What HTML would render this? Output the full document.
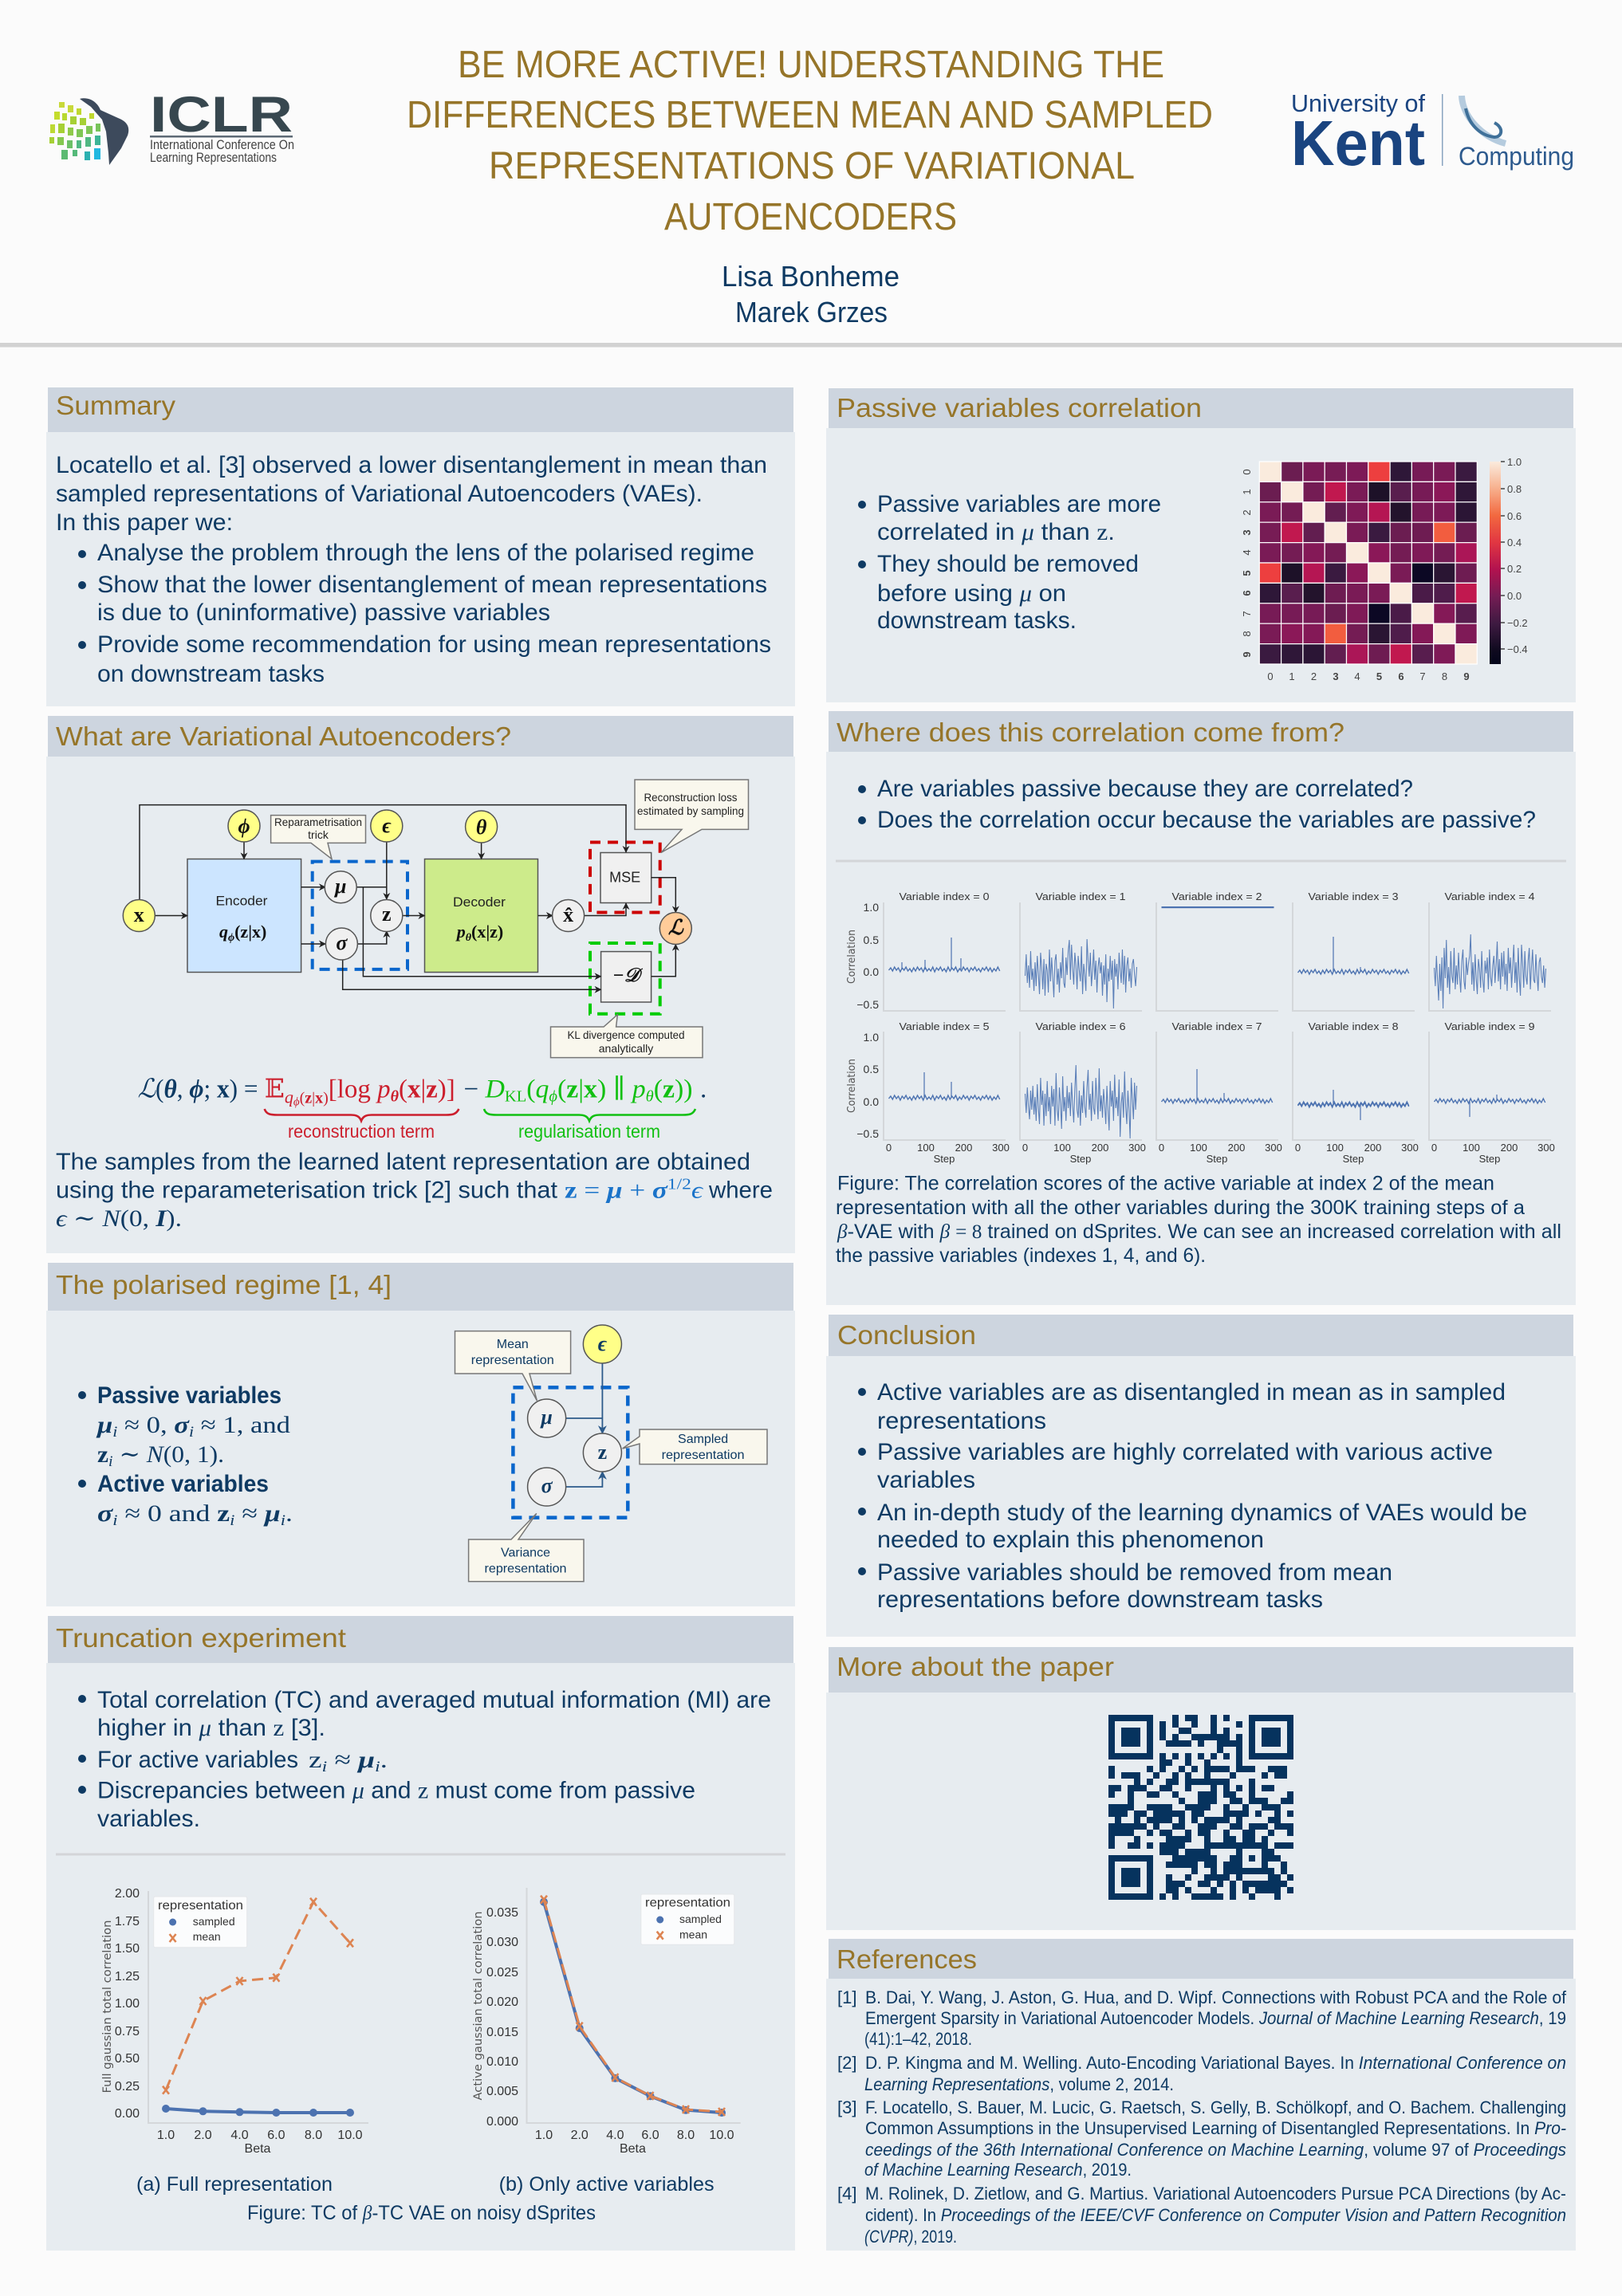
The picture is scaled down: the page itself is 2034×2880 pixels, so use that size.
<!DOCTYPE html>
<html><head><meta charset="utf-8"><title>Be More Active! Poster</title>
<style>
html,body{margin:0;padding:0;background:#fbfbfb}
svg{display:block}
text{font-family:"Liberation Sans",sans-serif}
.h{font-size:33px;fill:#967529}
.t{font-size:30px;fill:#0e3a63}
.f{font-size:25px;fill:#0e3a63}
.r{font-size:22px;fill:#0e3a63}
.m{font-family:"Liberation Serif","DejaVu Serif",serif}
.i{font-style:italic}
.bd{font-weight:bold}
.n{font-size:17px;fill:#222}
.c{font-size:14px;fill:#222;text-anchor:middle}
.c2{font-size:16px;fill:#0e3a63;text-anchor:middle}
.k{font-size:14px;fill:#333}
.w{font-family:"DejaVu Sans",sans-serif;font-size:14px;fill:#555;text-anchor:middle}
.ml{font-family:"Liberation Serif",serif;font-weight:bold;font-style:italic;font-size:26px;fill:#111;text-anchor:middle}
.hd{fill:#cdd5df}.bo{fill:#e7ecf0}
.ln{fill:none;stroke:#222;stroke-width:1.5}
.cb{fill:#f9f7ed;stroke:#777;stroke-width:1.5}
.nd{fill:#f0f0f0;stroke:#555;stroke-width:1.5}
.ye{fill:#ffff88;stroke:#555;stroke-width:1.5}
.hm rect{vector-effect:non-scaling-stroke}
</style></head>
<body>
<svg xmlns="http://www.w3.org/2000/svg" width="2034" height="2880" viewBox="0 0 2034 2880">
<defs>
<marker id="a" viewBox="0 0 10 10" refX="9" refY="5" markerWidth="9" markerHeight="9" markerUnits="userSpaceOnUse" orient="auto"><path d="M0 0L10 5L0 10L3 5z" fill="#222"/></marker>
<marker id="b" viewBox="0 0 10 10" refX="9" refY="5" markerWidth="11" markerHeight="11" markerUnits="userSpaceOnUse" orient="auto"><path d="M0 0L10 5L0 10L3 5z" fill="#2c5a8a"/></marker>
<linearGradient id="cbar" x1="0" y1="0" x2="0" y2="1">
<stop offset="0" stop-color="#faebdd"/><stop offset=".133" stop-color="#f7b08d"/><stop offset=".267" stop-color="#f2683f"/><stop offset=".4" stop-color="#e13642"/><stop offset=".533" stop-color="#b2124f"/><stop offset=".667" stop-color="#741c54"/><stop offset=".8" stop-color="#3e1a41"/><stop offset=".933" stop-color="#0f0a1f"/><stop offset="1" stop-color="#03051a"/>
</linearGradient>
<path id="j" fill="none" stroke="#4c72b0" stroke-width="1.4" d="M0 1 2.4-2 4.8 2 7.2-3 9.6 1 12-2 14.4 3 16.8-2 19.2 1 21.6-3 24 2 26.4-1 28.8 3 31.2-2 33.6 2 36-3 38.4 1 40.8-2 43.2 3 45.6-3 48 2 50.4-1 52.8 2 55.2-3 57.6 3 60-2 62.4 1 64.8-3 67.2 2 69.6-1 72 3 74.4-3 76.8 2 79.2-2 81.6 1 84-3 86.4 3 88.8-1 91.2 2 93.6-3 96 1 98.4-2 100.8 3 103.2-2 105.6 1 108-3 110.4 2 112.8-1 115.2 3 117.6-2 120 1 122.4-3 124.8 2 127.2-2 129.6 3 132-1 134.4 2 136.8-3 139.2 2"/>
<path id="xm" d="M-4-5L4 5M4-5L-4 5" stroke="#dd8452" stroke-width="2.6" fill="none"/>
</defs>
<rect width="2034" height="2880" fill="#fbfbfb"/>

<!-- header -->
<g style="font-size:48px;fill:#967529">
<text x="574" y="97" textLength="886" lengthAdjust="spacingAndGlyphs">BE MORE ACTIVE! UNDERSTANDING THE</text>
<text x="510" y="160" textLength="1011" lengthAdjust="spacingAndGlyphs">DIFFERENCES BETWEEN MEAN AND SAMPLED</text>
<text x="613" y="224" textLength="810" lengthAdjust="spacingAndGlyphs">REPRESENTATIONS OF VARIATIONAL</text>
<text x="833" y="288" textLength="367" lengthAdjust="spacingAndGlyphs">AUTOENCODERS</text>
</g>
<g style="font-size:36px;fill:#0e3a63">
<text x="905" y="359" textLength="223" lengthAdjust="spacingAndGlyphs">Lisa Bonheme</text>
<text x="922" y="404" textLength="191" lengthAdjust="spacingAndGlyphs">Marek Grzes</text>
</g>
<rect x="0" y="430" width="2034" height="5.5" fill="#d2d2d2"/>

<!-- ICLR logo -->
<path d="M100 124C112 121 122 128 126 138L148 148C158 152 164 158 160 170L152 186L137 207L136 192L133 165L128 150L114 134z" fill="#3d4a5c"/>
<g>
<rect x="74" y="128" width="7" height="7" fill="#c8d93a"/><rect x="85" y="132" width="7" height="9" fill="#c8d93a"/><rect x="96" y="136" width="6" height="8" fill="#c0d82f"/>
<rect x="68" y="140" width="7" height="10" fill="#c4dc2c"/><rect x="78" y="142" width="6" height="9" fill="#b8d930"/><rect x="88" y="146" width="8" height="10" fill="#a6d035"/><rect x="100" y="148" width="8" height="9" fill="#a6d035"/><rect x="112" y="142" width="6" height="7" fill="#c0d82f"/>
<rect x="63" y="156" width="6" height="11" fill="#bcd934"/><rect x="73" y="155" width="8" height="12" fill="#a6d035"/><rect x="85" y="160" width="7" height="10" fill="#8fca4a"/><rect x="96" y="162" width="8" height="10" fill="#7fc656"/><rect x="108" y="158" width="8" height="10" fill="#7fc656"/><rect x="120" y="155" width="6" height="10" fill="#78c45a"/>
<rect x="62" y="172" width="6" height="8" fill="#a6d035"/><rect x="72" y="172" width="8" height="10" fill="#85c850"/><rect x="84" y="176" width="7" height="10" fill="#6cc067"/><rect x="96" y="176" width="6" height="10" fill="#4fb882"/><rect x="107" y="172" width="7" height="12" fill="#4fb882"/><rect x="119" y="170" width="7" height="12" fill="#3db597"/>
<rect x="91" y="188" width="6" height="8" fill="#55b97a"/><rect x="77" y="188" width="8" height="12" fill="#5cba72"/><rect x="106" y="190" width="7" height="11" fill="#2bb0b0"/><rect x="118" y="186" width="8" height="14" fill="#22b8e0"/>
</g>
<text x="188" y="165" textLength="179" lengthAdjust="spacingAndGlyphs" style="font-size:63px;font-weight:bold;fill:#37474f">ICLR</text>
<rect x="188" y="170" width="179" height="2.5" fill="#5d6a75"/>
<text x="188" y="187" textLength="181" lengthAdjust="spacingAndGlyphs" style="font-size:17px;fill:#444">International Conference On</text>
<text x="188" y="203" textLength="159" lengthAdjust="spacingAndGlyphs" style="font-size:17px;fill:#444">Learning Representations</text>

<!-- Kent logo -->
<text x="1619" y="140" textLength="168" lengthAdjust="spacingAndGlyphs" style="font-size:31px;fill:#1a4480">University of</text>
<text x="1619" y="207" textLength="168" lengthAdjust="spacingAndGlyphs" style="font-size:80px;font-weight:bold;fill:#1a4480">Kent</text>
<rect x="1808" y="118" width="1.5" height="90" fill="#8aa4c0"/>
<path d="M1833 120C1834 146 1858 172 1888 180" fill="none" stroke="#b5cbde" stroke-width="8"/>
<path d="M1838 136C1842 156 1856 170 1874 172C1884 172 1886 160 1874 154" fill="none" stroke="#3f7099" stroke-width="4"/>
<text x="1829" y="207" textLength="145" lengthAdjust="spacingAndGlyphs" style="font-size:32px;fill:#2d5a8e">Computing</text>

<!-- panels -->
<rect class="bo" x="58" y="542" width="939" height="344"/><rect class="hd" x="60" y="486" width="935" height="56"/>
<rect class="bo" x="58" y="949" width="939" height="623"/><rect class="hd" x="60" y="898" width="935" height="51"/>
<rect class="bo" x="58" y="1644" width="939" height="371"/><rect class="hd" x="60" y="1584" width="935" height="60"/>
<rect class="bo" x="58" y="2086" width="939" height="737"/><rect class="hd" x="60" y="2027" width="935" height="59"/>
<rect class="bo" x="1036" y="537" width="940" height="344"/><rect class="hd" x="1039" y="487" width="934" height="50"/>
<rect class="bo" x="1036" y="943" width="940" height="694"/><rect class="hd" x="1039" y="892" width="934" height="51"/>
<rect class="bo" x="1036" y="1701" width="940" height="352"/><rect class="hd" x="1039" y="1649" width="934" height="52"/>
<rect class="bo" x="1036" y="2123" width="940" height="298"/><rect class="hd" x="1039" y="2066" width="934" height="57"/>
<rect class="bo" x="1036" y="2482" width="940" height="341"/><rect class="hd" x="1039" y="2432" width="934" height="50"/>

<!-- headings -->
<text class="h" x="70" y="520" textLength="150" lengthAdjust="spacingAndGlyphs">Summary</text>
<text class="h" x="70" y="935" textLength="571" lengthAdjust="spacingAndGlyphs">What are Variational Autoencoders?</text>
<text class="h" x="70" y="1623" textLength="421" lengthAdjust="spacingAndGlyphs">The polarised regime [1, 4]</text>
<text class="h" x="70" y="2066" textLength="364" lengthAdjust="spacingAndGlyphs">Truncation experiment</text>
<text class="h" x="1049" y="523" textLength="458" lengthAdjust="spacingAndGlyphs">Passive variables correlation</text>
<text class="h" x="1049" y="930" textLength="637" lengthAdjust="spacingAndGlyphs">Where does this correlation come from?</text>
<text class="h" x="1050" y="1686" textLength="174" lengthAdjust="spacingAndGlyphs">Conclusion</text>
<text class="h" x="1049" y="2102" textLength="348" lengthAdjust="spacingAndGlyphs">More about the paper</text>
<text class="h" x="1049" y="2469" textLength="176" lengthAdjust="spacingAndGlyphs">References</text>

<!-- summary -->
<text class="t" x="70" y="593" textLength="892" lengthAdjust="spacingAndGlyphs">Locatello et al. [3] observed a lower disentanglement in mean than</text>
<text class="t" x="70" y="629" textLength="811" lengthAdjust="spacingAndGlyphs">sampled representations of Variational Autoencoders (VAEs).</text>
<text class="t" x="70" y="665" textLength="222" lengthAdjust="spacingAndGlyphs">In this paper we:</text>
<g fill="#0e3a63"><circle cx="103" cy="695" r="5"/><circle cx="103" cy="734" r="5"/><circle cx="103" cy="809" r="5"/></g>
<text class="t" x="122" y="703" textLength="824" lengthAdjust="spacingAndGlyphs">Analyse the problem through the lens of the polarised regime</text>
<text class="t" x="122" y="743" textLength="840" lengthAdjust="spacingAndGlyphs">Show that the lower disentanglement of mean representations</text>
<text class="t" x="122" y="778" textLength="568" lengthAdjust="spacingAndGlyphs">is due to (uninformative) passive variables</text>
<text class="t" x="122" y="818" textLength="845" lengthAdjust="spacingAndGlyphs">Provide some recommendation for using mean representations</text>
<text class="t" x="122" y="855" textLength="285" lengthAdjust="spacingAndGlyphs">on downstream tasks</text>

<!-- VAE diagram -->
<rect x="235" y="1077.5" width="142.6" height="142" fill="#cce5ff" stroke="#555" stroke-width="1.5"/>
<rect x="532.5" y="1077.5" width="142" height="142" fill="#cdeb8b" stroke="#555" stroke-width="1.5"/>
<rect class="nd" x="753" y="1069.5" width="63.7" height="63"/>
<rect class="nd" x="753.6" y="1193.6" width="63" height="63.4"/>
<rect x="391.7" y="1080.6" width="119.3" height="135.3" fill="none" stroke="#0a66cc" stroke-width="4" stroke-dasharray="13 9"/>
<rect x="740" y="1056.5" width="87.7" height="88" fill="none" stroke="#cc0000" stroke-width="4" stroke-dasharray="13 9"/>
<rect x="740" y="1183" width="87.7" height="88.7" fill="none" stroke="#00cc00" stroke-width="4" stroke-dasharray="13 9"/>
<path class="ln" d="M175 1129V1009.6H785V1069" marker-end="url(#a)"/>
<path class="ln" d="M194 1148.5H235" marker-end="url(#a)"/>
<path class="ln" d="M306 1056V1077.5" marker-end="url(#a)"/>
<path class="ln" d="M377.6 1112.8H408" marker-end="url(#a)"/>
<path class="ln" d="M377.6 1184H408" marker-end="url(#a)"/>
<path class="ln" d="M484.8 1056V1128" marker-end="url(#a)"/>
<path class="ln" d="M447 1112.8H484.8"/>
<path class="ln" d="M455.4 1112.8V1224.8H753.6" marker-end="url(#a)"/>
<path class="ln" d="M448 1184H484.8V1168" marker-end="url(#a)"/>
<path class="ln" d="M429.7 1204V1241.3H753.6" marker-end="url(#a)"/>
<path class="ln" d="M505 1148.5H532.5" marker-end="url(#a)"/>
<path class="ln" d="M603.6 1057V1077.5" marker-end="url(#a)"/>
<path class="ln" d="M674.6 1148.5H693" marker-end="url(#a)"/>
<path class="ln" d="M733 1148.5H785V1133" marker-end="url(#a)"/>
<path class="ln" d="M816.7 1100.7H847.3V1144.5" marker-end="url(#a)"/>
<path class="ln" d="M816.7 1224.8H847.3V1184.6" marker-end="url(#a)"/>
<circle class="ye" cx="174.3" cy="1148.5" r="20"/>
<circle class="ye" cx="306" cy="1036" r="20"/>
<circle class="ye" cx="484.8" cy="1036" r="20"/>
<circle class="ye" cx="603.6" cy="1037" r="20"/>
<circle class="nd" cx="427.2" cy="1112.8" r="20"/>
<circle class="nd" cx="428.4" cy="1184" r="20"/>
<circle class="nd" cx="484.8" cy="1148.5" r="20"/>
<circle class="nd" cx="712.6" cy="1148.5" r="20"/>
<circle cx="847.3" cy="1164.5" r="20" fill="#ffcc99" stroke="#555" stroke-width="1.5"/>
<text class="ml" x="174.3" y="1156" style="font-style:normal">x</text>
<text class="ml" x="306" y="1045">ϕ</text>
<text class="ml" x="484.8" y="1044">ϵ</text>
<text class="ml" x="603.6" y="1046">θ</text>
<text class="ml" x="427.2" y="1120">μ</text>
<text class="ml" x="428.4" y="1191">σ</text>
<text class="ml" x="484.8" y="1155" style="font-style:normal">z</text>
<text class="ml" x="712.6" y="1156" style="font-style:normal">x̂</text>
<text class="ml" x="847.3" y="1172" style="font-family:'DejaVu Serif',serif">ℒ</text>
<text class="n" x="303" y="1135.5" text-anchor="middle" textLength="65" lengthAdjust="spacingAndGlyphs">Encoder</text>
<text class="m" x="304.7" y="1176" text-anchor="middle" style="font-size:22px;font-weight:bold;font-style:italic;fill:#111">q<tspan dy="4" font-size="14">ϕ</tspan><tspan dy="-4" font-style="normal">(z|x)</tspan></text>
<text class="n" x="601" y="1137" text-anchor="middle" textLength="66" lengthAdjust="spacingAndGlyphs">Decoder</text>
<text class="m" x="602" y="1176" text-anchor="middle" style="font-size:22px;font-weight:bold;font-style:italic;fill:#111">p<tspan dy="4" font-size="14">θ</tspan><tspan dy="-4" font-style="normal">(x|z)</tspan></text>
<text class="n" x="783.6" y="1106.5" text-anchor="middle" style="font-size:18px">MSE</text>
<text class="m" x="785" y="1231" text-anchor="middle" style="font-size:24px;font-style:italic;font-weight:bold;fill:#111">−𝒟</text>
<path class="cb" d="M339.6 1022.6H458.5V1057.4H411L416 1077.5L390 1057.4H339.6z"/>
<text class="c" x="399" y="1036" textLength="110" lengthAdjust="spacingAndGlyphs">Reparametrisation</text>
<text class="c" x="399" y="1052">trick</text>
<path class="cb" d="M796 978H938.5V1040.4H880L829 1069.5L855 1040.4H796z"/>
<text class="c" x="866" y="1005" textLength="117" lengthAdjust="spacingAndGlyphs">Reconstruction loss</text>
<text class="c" x="866" y="1022" textLength="134" lengthAdjust="spacingAndGlyphs">estimated by sampling</text>
<path class="cb" d="M690.5 1288H757L774.4 1272.6L772.6 1288H881V1326.6H690.5z"/>
<text class="c" x="785" y="1303" textLength="147" lengthAdjust="spacingAndGlyphs">KL divergence computed</text>
<text class="c" x="785" y="1320">analytically</text>

<!-- formula -->
<text class="m" x="172.5" y="1376.6" textLength="151" lengthAdjust="spacingAndGlyphs" style="font-size:33px;fill:#0e3a63"><tspan class="i">ℒ</tspan>(<tspan class="i bd">θ</tspan>, <tspan class="i bd">ϕ</tspan>; <tspan class="bd">x</tspan>) =</text>
<text class="m" x="331.7" y="1376.6" textLength="239" lengthAdjust="spacingAndGlyphs" style="font-size:33px;fill:#cc1f2d">𝔼<tspan dy="7" font-size="22" class="i">q</tspan><tspan dy="3" font-size="15" class="i">ϕ</tspan><tspan dy="-3" font-size="20">(<tspan class="bd">z</tspan>|<tspan class="bd">x</tspan>)</tspan><tspan dy="-7">[log </tspan><tspan class="i">p</tspan><tspan dy="5" font-size="20" class="i bd">θ</tspan><tspan dy="-5">(<tspan class="bd">x</tspan>|<tspan class="bd">z</tspan>)]</tspan></text>
<text class="m" x="581.5" y="1376.6" style="font-size:33px;fill:#0e3a63">−</text>
<text class="m" x="608.5" y="1376.6" textLength="260" lengthAdjust="spacingAndGlyphs" style="font-size:33px;fill:#12c012"><tspan class="i">D</tspan><tspan dy="5" font-size="20">KL</tspan><tspan dy="-5">(</tspan><tspan class="i">q</tspan><tspan dy="5" font-size="20" class="i">ϕ</tspan><tspan dy="-5">(<tspan class="bd">z</tspan>|<tspan class="bd">x</tspan>) ∥ </tspan><tspan class="i">p</tspan><tspan dy="5" font-size="20" class="i">θ</tspan><tspan dy="-5">(<tspan class="bd">z</tspan>))</tspan></text>
<text class="m" x="878" y="1376.6" style="font-size:33px;fill:#0e3a63">.</text>
<path d="M331.7 1391C334 1398 340 1398.5 348 1398.5H440C448 1398.5 451 1401 453 1406C455 1401 458 1398.5 466 1398.5H559C567 1398.5 572 1398 575.4 1391" fill="none" stroke="#cc1f2d" stroke-width="2.6"/>
<path d="M607 1391C609 1398 615 1398.5 623 1398.5H726C734 1398.5 737 1401 739 1406C741 1401 744 1398.5 752 1398.5H856C864 1398.5 869 1398 872 1391" fill="none" stroke="#12c012" stroke-width="2.6"/>
<text x="361" y="1427" textLength="184" lengthAdjust="spacingAndGlyphs" style="font-size:23px;fill:#cc1f2d">reconstruction term</text>
<text x="650" y="1427" textLength="178" lengthAdjust="spacingAndGlyphs" style="font-size:23px;fill:#12c012">regularisation term</text>
<text class="t" x="70" y="1467" textLength="871" lengthAdjust="spacingAndGlyphs">The samples from the learned latent representation are obtained</text>
<text class="t" x="70" y="1502.5" textLength="629" lengthAdjust="spacingAndGlyphs">using the reparameterisation trick [2] such that</text>
<text class="m" x="708" y="1502.5" textLength="173" lengthAdjust="spacingAndGlyphs" style="font-size:30px;fill:#1a73c9"><tspan class="bd">z</tspan> = <tspan class="i bd">μ</tspan> + <tspan class="i bd">σ</tspan><tspan dy="-11" font-size="20">1/2</tspan><tspan dy="11" class="i">ϵ</tspan></text>
<text class="t" x="889" y="1502.5" textLength="80" lengthAdjust="spacingAndGlyphs">where</text>
<text class="m" x="70" y="1538" textLength="158" lengthAdjust="spacingAndGlyphs" style="font-size:30px;fill:#0e3a63"><tspan class="i">ϵ</tspan> ∼ <tspan class="i">N</tspan>(0, <tspan class="i bd">I</tspan>).</text>

<!-- polarised -->
<g fill="#0e3a63"><circle cx="103" cy="1750" r="5"/><circle cx="103" cy="1861" r="5"/></g>
<text class="t bd" x="122" y="1760" textLength="231" lengthAdjust="spacingAndGlyphs">Passive variables</text>
<text class="m" x="122" y="1797" textLength="242" lengthAdjust="spacingAndGlyphs" style="font-size:30px;fill:#0e3a63"><tspan class="i bd">μ</tspan><tspan dy="5" font-size="19" class="i">i</tspan><tspan dy="-5"> ≈ 0, </tspan><tspan class="i bd">σ</tspan><tspan dy="5" font-size="19" class="i">i</tspan><tspan dy="-5"> ≈ 1, and</tspan></text>
<text class="m" x="122" y="1834" textLength="159" lengthAdjust="spacingAndGlyphs" style="font-size:30px;fill:#0e3a63"><tspan class="bd">z</tspan><tspan dy="5" font-size="19" class="i">i</tspan><tspan dy="-5"> ∼ </tspan><tspan class="i">N</tspan>(0, 1).</text>
<text class="t bd" x="122" y="1871" textLength="215" lengthAdjust="spacingAndGlyphs">Active variables</text>
<text class="m" x="122" y="1908" textLength="245" lengthAdjust="spacingAndGlyphs" style="font-size:30px;fill:#0e3a63"><tspan class="i bd">σ</tspan><tspan dy="5" font-size="19" class="i">i</tspan><tspan dy="-5"> ≈ 0 and </tspan><tspan class="bd">z</tspan><tspan dy="5" font-size="19" class="i">i</tspan><tspan dy="-5"> ≈ </tspan><tspan class="i bd">μ</tspan><tspan dy="5" font-size="19" class="i">i</tspan><tspan dy="-5">.</tspan></text>

<rect x="643.4" y="1740.4" width="143.9" height="163.2" fill="none" stroke="#0a66cc" stroke-width="4.5" stroke-dasharray="13 9"/>
<path d="M755.4 1710V1798" fill="none" stroke="#2c5a8a" stroke-width="1.8" marker-end="url(#b)"/>
<path d="M709.6 1779H755.4" fill="none" stroke="#2c5a8a" stroke-width="1.8"/>
<path d="M709.6 1865H755.4V1846" fill="none" stroke="#2c5a8a" stroke-width="1.8" marker-end="url(#b)"/>
<ellipse class="ye" cx="755.4" cy="1686" rx="24" ry="24"/>
<ellipse class="nd" cx="685.6" cy="1779" rx="24" ry="24"/>
<ellipse class="nd" cx="755.4" cy="1822" rx="24" ry="24"/>
<ellipse class="nd" cx="685.6" cy="1865" rx="24" ry="24"/>
<text class="ml" x="755.4" y="1694" style="fill:#0e3a63">ϵ</text>
<text class="ml" x="685.6" y="1786" style="fill:#0e3a63">μ</text>
<text class="ml" x="755.4" y="1830" style="fill:#0e3a63;font-style:normal">z</text>
<text class="ml" x="685.6" y="1872" style="fill:#0e3a63">σ</text>
<path class="cb" d="M570.5 1669.6H715.6V1723H664L673.4 1757L655 1723H570.5z"/>
<text class="c2" x="642.8" y="1691">Mean</text>
<text class="c2" x="642.8" y="1711" textLength="104" lengthAdjust="spacingAndGlyphs">representation</text>
<path class="cb" d="M587.6 1931H641L672.8 1898.4L650 1931H732V1983.8H587.6z"/>
<text class="c2" x="659" y="1952.6">Variance</text>
<text class="c2" x="659" y="1972.5" textLength="103" lengthAdjust="spacingAndGlyphs">representation</text>
<path class="cb" d="M802 1793H962V1836.6H802V1811L780.6 1817L802 1801.7z"/>
<text class="c2" x="881.6" y="1810">Sampled</text>
<text class="c2" x="881.6" y="1830" textLength="104" lengthAdjust="spacingAndGlyphs">representation</text>

<!-- truncation -->
<g fill="#0e3a63"><circle cx="103" cy="2131" r="5"/><circle cx="103" cy="2206" r="5"/><circle cx="103" cy="2245" r="5"/></g>
<text class="t" x="122" y="2142" textLength="845" lengthAdjust="spacingAndGlyphs">Total correlation (TC) and averaged mutual information (MI) are</text>
<text class="t" x="122" y="2177" textLength="286" lengthAdjust="spacingAndGlyphs">higher in <tspan class="m i">μ</tspan> than <tspan class="m">z</tspan> [3].</text>
<text class="t" x="122" y="2217" textLength="252" lengthAdjust="spacingAndGlyphs">For active variables</text>
<text class="m" x="387" y="2217" textLength="99" lengthAdjust="spacingAndGlyphs" style="font-size:30px;fill:#0e3a63"><tspan>z</tspan><tspan dy="5" font-size="19" class="i">i</tspan><tspan dy="-5"> ≈ </tspan><tspan class="i bd">μ</tspan><tspan dy="5" font-size="19" class="i">i</tspan><tspan dy="-5">.</tspan></text>
<text class="t" x="122" y="2255.5" textLength="750" lengthAdjust="spacingAndGlyphs">Discrepancies between <tspan class="m i">μ</tspan> and <tspan class="m">z</tspan> must come from passive</text>
<text class="t" x="122" y="2291" textLength="129" lengthAdjust="spacingAndGlyphs">variables.</text>
<rect x="70" y="2324.5" width="915" height="3" fill="#d3d5d8"/>

<!-- chart a -->
<path d="M186 2372V2663H462" fill="none" stroke="#d4d7da" stroke-width="2"/>
<g class="k" text-anchor="end" style="font-size:16px">
<text x="175" y="2380">2.00</text><text x="175" y="2415">1.75</text><text x="175" y="2449">1.50</text><text x="175" y="2484">1.25</text><text x="175" y="2518">1.00</text><text x="175" y="2553">0.75</text><text x="175" y="2587">0.50</text><text x="175" y="2622">0.25</text><text x="175" y="2656">0.00</text>
</g>
<g class="k" text-anchor="middle" style="font-size:16px">
<text x="208" y="2683">1.0</text><text x="254.5" y="2683">2.0</text><text x="300.5" y="2683">4.0</text><text x="346.4" y="2683">6.0</text><text x="393" y="2683">8.0</text><text x="439" y="2683">10.0</text>
<text x="323" y="2700">Beta</text>
<text x="793.4" y="2700">Beta</text>
<text x="682" y="2683">1.0</text><text x="726.7" y="2683">2.0</text><text x="771.4" y="2683">4.0</text><text x="815.5" y="2683">6.0</text><text x="860" y="2683">8.0</text><text x="905" y="2683">10.0</text>
</g>
<text class="w" transform="translate(139 2517) rotate(-90)" textLength="217" lengthAdjust="spacingAndGlyphs">Full gaussian total correlation</text>
<path d="M208 2645L254.5 2648.3L300.5 2649.3L346.4 2650L393 2650L439 2650" fill="none" stroke="#4c72b0" stroke-width="4"/>
<g fill="#4c72b0"><circle cx="208" cy="2645" r="5"/><circle cx="254.5" cy="2648.3" r="5"/><circle cx="300.5" cy="2649.3" r="5"/><circle cx="346.4" cy="2650" r="5"/><circle cx="393" cy="2650" r="5"/><circle cx="439" cy="2650" r="5"/></g>
<path d="M208 2621.7L254.5 2510L300.5 2485L346.4 2480.7L393 2385.7L439 2437.3" fill="none" stroke="#dd8452" stroke-width="3" stroke-dasharray="14 7"/>
<use href="#xm" x="208" y="2621.7"/><use href="#xm" x="254.5" y="2510"/><use href="#xm" x="300.5" y="2485"/><use href="#xm" x="346.4" y="2480.7"/><use href="#xm" x="393" y="2385.7"/><use href="#xm" x="439" y="2437.3"/>
<rect x="192.7" y="2379" width="117" height="63.7" rx="2" fill="#fbfcfd" stroke="#e4e6e9"/>
<text x="198" y="2395" textLength="107" lengthAdjust="spacingAndGlyphs" style="font-size:16px;fill:#333">representation</text>
<circle cx="216.6" cy="2411" r="4.5" fill="#4c72b0"/><use href="#xm" x="216.6" y="2431"/>
<text x="241.7" y="2415" style="font-size:14px;fill:#333">sampled</text><text x="241.7" y="2434" style="font-size:14px;fill:#333">mean</text>

<!-- chart b -->
<path d="M660.5 2368V2663H928.7" fill="none" stroke="#d4d7da" stroke-width="2"/>
<g class="k" text-anchor="end" style="font-size:16px">
<text x="650" y="2404">0.035</text><text x="650" y="2441">0.030</text><text x="650" y="2479">0.025</text><text x="650" y="2516">0.020</text><text x="650" y="2554">0.015</text><text x="650" y="2591">0.010</text><text x="650" y="2628">0.005</text><text x="650" y="2666">0.000</text>
</g>
<text class="w" transform="translate(604 2516) rotate(-90)" textLength="237" lengthAdjust="spacingAndGlyphs">Active gaussian total correlation</text>
<path d="M682 2385.7L726.7 2544L771.4 2606.7L815.5 2629.3L860 2646.7L905 2650" fill="none" stroke="#4c72b0" stroke-width="4"/>
<g fill="#4c72b0"><circle cx="682" cy="2385.7" r="5"/><circle cx="726.7" cy="2544" r="5"/><circle cx="771.4" cy="2606.7" r="5"/><circle cx="815.5" cy="2629.3" r="5"/><circle cx="860" cy="2646.7" r="5"/><circle cx="905" cy="2650" r="5"/></g>
<path d="M682 2382.7L726.7 2541.7L771.4 2606L815.5 2629L860 2646L905 2649" fill="none" stroke="#dd8452" stroke-width="3" stroke-dasharray="14 7"/>
<use href="#xm" x="682" y="2382.7"/><use href="#xm" x="726.7" y="2541.7"/><use href="#xm" x="771.4" y="2606"/><use href="#xm" x="815.5" y="2629"/><use href="#xm" x="860" y="2646"/><use href="#xm" x="905" y="2649"/>
<rect x="803.8" y="2376" width="117" height="63.3" rx="2" fill="#fbfcfd" stroke="#e4e6e9"/>
<text x="809" y="2391.7" textLength="107" lengthAdjust="spacingAndGlyphs" style="font-size:16px;fill:#333">representation</text>
<circle cx="827.7" cy="2408" r="4.5" fill="#4c72b0"/><use href="#xm" x="827.7" y="2427.7"/>
<text x="852" y="2412" style="font-size:14px;fill:#333">sampled</text><text x="852" y="2431.7" style="font-size:14px;fill:#333">mean</text>

<text class="f" x="171" y="2748" textLength="246" lengthAdjust="spacingAndGlyphs">(a) Full representation</text>
<text class="f" x="625.6" y="2748" textLength="270" lengthAdjust="spacingAndGlyphs">(b) Only active variables</text>
<text class="f" x="310" y="2784" textLength="437" lengthAdjust="spacingAndGlyphs">Figure: TC of <tspan class="m i">β</tspan>-TC VAE on noisy dSprites</text>

<!-- passive correlation -->
<g fill="#0e3a63"><circle cx="1081" cy="633" r="5"/><circle cx="1081" cy="708" r="5"/></g>
<text class="t" x="1100" y="642" textLength="356" lengthAdjust="spacingAndGlyphs">Passive variables are more</text>
<text class="t" x="1100" y="677" textLength="298" lengthAdjust="spacingAndGlyphs">correlated in <tspan class="m i">μ</tspan> than <tspan class="m">z</tspan>.</text>
<text class="t" x="1100" y="717" textLength="328" lengthAdjust="spacingAndGlyphs">They should be removed</text>
<text class="t" x="1100" y="754" textLength="237" lengthAdjust="spacingAndGlyphs">before using <tspan class="m i">μ</tspan> on</text>
<text class="t" x="1100" y="788" textLength="250" lengthAdjust="spacingAndGlyphs">downstream tasks.</text>

<!-- heatmap -->
<g class="hm" transform="translate(1579.3 579) scale(27.3 25.4)" stroke="#fff" stroke-width="1.2">
<g><rect x="0" width="1" height="1" fill="#faebdd"/><rect x="1" width="1" height="1" fill="#6b1d51"/><rect x="2" width="1" height="1" fill="#7a1b56"/><rect x="3" width="1" height="1" fill="#771c55"/><rect x="4" width="1" height="1" fill="#7d1a57"/><rect x="5" width="1" height="1" fill="#ed3f3f"/><rect x="6" width="1" height="1" fill="#2e1738"/><rect x="7" width="1" height="1" fill="#771b56"/><rect x="8" width="1" height="1" fill="#7a1b56"/><rect x="9" width="1" height="1" fill="#3a1a40"/></g>
<g transform="translate(0 1)"><rect x="0" width="1" height="1" fill="#6b1d51"/><rect x="1" width="1" height="1" fill="#faebdd"/><rect x="2" width="1" height="1" fill="#741c54"/><rect x="3" width="1" height="1" fill="#c1184f"/><rect x="4" width="1" height="1" fill="#7a1b56"/><rect x="5" width="1" height="1" fill="#1d1128"/><rect x="6" width="1" height="1" fill="#591e4e"/><rect x="7" width="1" height="1" fill="#771b56"/><rect x="8" width="1" height="1" fill="#8b1858"/><rect x="9" width="1" height="1" fill="#2f1738"/></g>
<g transform="translate(0 2)"><rect x="0" width="1" height="1" fill="#7a1b56"/><rect x="1" width="1" height="1" fill="#741c54"/><rect x="2" width="1" height="1" fill="#faebdd"/><rect x="3" width="1" height="1" fill="#621e50"/><rect x="4" width="1" height="1" fill="#7f1a57"/><rect x="5" width="1" height="1" fill="#b51653"/><rect x="6" width="1" height="1" fill="#23132c"/><rect x="7" width="1" height="1" fill="#771b56"/><rect x="8" width="1" height="1" fill="#7d1a57"/><rect x="9" width="1" height="1" fill="#2b1535"/></g>
<g transform="translate(0 3)"><rect x="0" width="1" height="1" fill="#771c55"/><rect x="1" width="1" height="1" fill="#c1184f"/><rect x="2" width="1" height="1" fill="#621e50"/><rect x="3" width="1" height="1" fill="#faebdd"/><rect x="4" width="1" height="1" fill="#7a1b56"/><rect x="5" width="1" height="1" fill="#3a1a40"/><rect x="6" width="1" height="1" fill="#6b1d51"/><rect x="7" width="1" height="1" fill="#6e1c52"/><rect x="8" width="1" height="1" fill="#f25d3f"/><rect x="9" width="1" height="1" fill="#6b1d51"/></g>
<g transform="translate(0 4)"><rect x="0" width="1" height="1" fill="#7a1b56"/><rect x="1" width="1" height="1" fill="#741c54"/><rect x="2" width="1" height="1" fill="#841957"/><rect x="3" width="1" height="1" fill="#741c54"/><rect x="4" width="1" height="1" fill="#faebdd"/><rect x="5" width="1" height="1" fill="#8b1858"/><rect x="6" width="1" height="1" fill="#741c54"/><rect x="7" width="1" height="1" fill="#7f1a57"/><rect x="8" width="1" height="1" fill="#741c54"/><rect x="9" width="1" height="1" fill="#ab1657"/></g>
<g transform="translate(0 5)"><rect x="0" width="1" height="1" fill="#ed3f3f"/><rect x="1" width="1" height="1" fill="#1d1128"/><rect x="2" width="1" height="1" fill="#b51653"/><rect x="3" width="1" height="1" fill="#3a1a40"/><rect x="4" width="1" height="1" fill="#8b1858"/><rect x="5" width="1" height="1" fill="#faebdd"/><rect x="6" width="1" height="1" fill="#7a1b56"/><rect x="7" width="1" height="1" fill="#0c0824"/><rect x="8" width="1" height="1" fill="#2a1533"/><rect x="9" width="1" height="1" fill="#6e1c52"/></g>
<g transform="translate(0 6)"><rect x="0" width="1" height="1" fill="#2e1738"/><rect x="1" width="1" height="1" fill="#591e4e"/><rect x="2" width="1" height="1" fill="#23132c"/><rect x="3" width="1" height="1" fill="#6e1c52"/><rect x="4" width="1" height="1" fill="#7a1b56"/><rect x="5" width="1" height="1" fill="#7a1b56"/><rect x="6" width="1" height="1" fill="#faebdd"/><rect x="7" width="1" height="1" fill="#4a1b48"/><rect x="8" width="1" height="1" fill="#4f1c4b"/><rect x="9" width="1" height="1" fill="#c1184f"/></g>
<g transform="translate(0 7)"><rect x="0" width="1" height="1" fill="#771b56"/><rect x="1" width="1" height="1" fill="#771b56"/><rect x="2" width="1" height="1" fill="#771b56"/><rect x="3" width="1" height="1" fill="#6b1d51"/><rect x="4" width="1" height="1" fill="#7f1a57"/><rect x="5" width="1" height="1" fill="#0c0824"/><rect x="6" width="1" height="1" fill="#4a1b48"/><rect x="7" width="1" height="1" fill="#faebdd"/><rect x="8" width="1" height="1" fill="#841957"/><rect x="9" width="1" height="1" fill="#581d4e"/></g>
<g transform="translate(0 8)"><rect x="0" width="1" height="1" fill="#7a1b56"/><rect x="1" width="1" height="1" fill="#8b1858"/><rect x="2" width="1" height="1" fill="#841957"/><rect x="3" width="1" height="1" fill="#f25d3f"/><rect x="4" width="1" height="1" fill="#741c54"/><rect x="5" width="1" height="1" fill="#2a1533"/><rect x="6" width="1" height="1" fill="#4f1c4b"/><rect x="7" width="1" height="1" fill="#841957"/><rect x="8" width="1" height="1" fill="#faebdd"/><rect x="9" width="1" height="1" fill="#7f1a57"/></g>
<g transform="translate(0 9)"><rect x="0" width="1" height="1" fill="#3a1a40"/><rect x="1" width="1" height="1" fill="#2f1738"/><rect x="2" width="1" height="1" fill="#2b1535"/><rect x="3" width="1" height="1" fill="#621e50"/><rect x="4" width="1" height="1" fill="#ab1657"/><rect x="5" width="1" height="1" fill="#6e1c52"/><rect x="6" width="1" height="1" fill="#c1184f"/><rect x="7" width="1" height="1" fill="#581d4e"/><rect x="8" width="1" height="1" fill="#7f1a57"/><rect x="9" width="1" height="1" fill="#faebdd"/></g>
</g>
<g style="font-size:13px;fill:#444" text-anchor="middle">
<text x="1593" y="853">0</text><text x="1620" y="853">1</text><text x="1647.5" y="853">2</text><text x="1675" y="853" font-weight="bold">3</text><text x="1702" y="853">4</text><text x="1729.5" y="853" font-weight="bold">5</text><text x="1757" y="853" font-weight="bold">6</text><text x="1784" y="853">7</text><text x="1811.5" y="853">8</text><text x="1839" y="853" font-weight="bold">9</text>
<text transform="translate(1568 592) rotate(-90)">0</text><text transform="translate(1568 617) rotate(-90)">1</text><text transform="translate(1568 643) rotate(-90)">2</text><text transform="translate(1568 668) rotate(-90)" font-weight="bold">3</text><text transform="translate(1568 693) rotate(-90)">4</text><text transform="translate(1568 719) rotate(-90)" font-weight="bold">5</text><text transform="translate(1568 744) rotate(-90)" font-weight="bold">6</text><text transform="translate(1568 770) rotate(-90)">7</text><text transform="translate(1568 795) rotate(-90)">8</text><text transform="translate(1568 821) rotate(-90)" font-weight="bold">9</text>
</g>
<rect x="1868" y="579" width="14" height="254" fill="url(#cbar)"/>
<path d="M1882 579h5M1882 613h5M1882 647h5M1882 680h5M1882 713h5M1882 747h5M1882 781h5M1882 814h5" stroke="#444" stroke-width="1.5"/>
<g style="font-size:13px;fill:#444">
<text x="1890" y="584">1.0</text><text x="1890" y="618">0.8</text><text x="1890" y="652">0.6</text><text x="1890" y="685">0.4</text><text x="1890" y="718">0.2</text><text x="1890" y="752">0.0</text><text x="1890" y="786">−0.2</text><text x="1890" y="819">−0.4</text>
</g>

<!-- where -->
<g fill="#0e3a63"><circle cx="1081" cy="990" r="5"/><circle cx="1081" cy="1029" r="5"/></g>
<text class="t" x="1100" y="999" textLength="672" lengthAdjust="spacingAndGlyphs">Are variables passive because they are correlated?</text>
<text class="t" x="1100" y="1038" textLength="826" lengthAdjust="spacingAndGlyphs">Does the correlation occur because the variables are passive?</text>
<rect x="1048" y="1078.5" width="916" height="3" fill="#d3d5d8"/>

<!-- small multiples -->
<g fill="none" stroke="#d4d7da" stroke-width="2">
<path d="M1108 1132V1268H1261M1279 1132V1268H1432M1450 1132V1268H1603M1621 1132V1268H1774M1792 1132V1268H1945"/>
<path d="M1108 1294V1430H1261M1279 1294V1430H1432M1450 1294V1430H1603M1621 1294V1430H1774M1792 1294V1430H1945"/>
</g>
<g style="font-size:13px;fill:#333" text-anchor="middle">
<text x="1184" y="1129" textLength="113" lengthAdjust="spacingAndGlyphs">Variable index = 0</text><text x="1355" y="1129" textLength="113" lengthAdjust="spacingAndGlyphs">Variable index = 1</text><text x="1526" y="1129" textLength="113" lengthAdjust="spacingAndGlyphs">Variable index = 2</text><text x="1697" y="1129" textLength="113" lengthAdjust="spacingAndGlyphs">Variable index = 3</text><text x="1868" y="1129" textLength="113" lengthAdjust="spacingAndGlyphs">Variable index = 4</text>
<text x="1184" y="1292" textLength="113" lengthAdjust="spacingAndGlyphs">Variable index = 5</text><text x="1355" y="1292" textLength="113" lengthAdjust="spacingAndGlyphs">Variable index = 6</text><text x="1526" y="1292" textLength="113" lengthAdjust="spacingAndGlyphs">Variable index = 7</text><text x="1697" y="1292" textLength="113" lengthAdjust="spacingAndGlyphs">Variable index = 8</text><text x="1868" y="1292" textLength="113" lengthAdjust="spacingAndGlyphs">Variable index = 9</text>
<text x="1114.5" y="1444">0</text><text x="1161" y="1444">100</text><text x="1208.5" y="1444">200</text><text x="1255" y="1444">300</text>
<text x="1285.5" y="1444">0</text><text x="1332" y="1444">100</text><text x="1379.5" y="1444">200</text><text x="1426" y="1444">300</text>
<text x="1456.5" y="1444">0</text><text x="1503" y="1444">100</text><text x="1550.5" y="1444">200</text><text x="1597" y="1444">300</text>
<text x="1627.5" y="1444">0</text><text x="1674" y="1444">100</text><text x="1721.5" y="1444">200</text><text x="1768" y="1444">300</text>
<text x="1798.5" y="1444">0</text><text x="1845" y="1444">100</text><text x="1892.5" y="1444">200</text><text x="1939" y="1444">300</text>
<text x="1184" y="1458">Step</text><text x="1355" y="1458">Step</text><text x="1526" y="1458">Step</text><text x="1697" y="1458">Step</text><text x="1868" y="1458">Step</text>
</g>
<g style="font-size:14px;fill:#333" text-anchor="end">
<text x="1102" y="1143">1.0</text><text x="1102" y="1184">0.5</text><text x="1102" y="1224">0.0</text><text x="1102" y="1265">−0.5</text>
<text x="1102" y="1306">1.0</text><text x="1102" y="1346">0.5</text><text x="1102" y="1387">0.0</text><text x="1102" y="1427">−0.5</text>
</g>
<text class="w" transform="translate(1072 1200) rotate(-90)" textLength="68" lengthAdjust="spacingAndGlyphs" style="font-size:13px">Correlation</text>
<text class="w" transform="translate(1072 1362) rotate(-90)" textLength="68" lengthAdjust="spacingAndGlyphs" style="font-size:13px">Correlation</text>

<!-- series -->
<rect x="1456.5" y="1137" width="141" height="2.2" fill="#4c72b0"/>
<g fill="none" stroke="#4c72b0" stroke-width="1.2">
<use href="#j" x="1114.5" y="1216"/><path d="M1193 1216V1176M1160 1216V1204M1205 1216V1202M1131 1216V1207"/>
<use href="#j" x="1627.5" y="1219"/><path d="M1672 1219V1175M1706 1219V1213"/>
<use href="#j" x="1114.5" y="1377"/><path d="M1159 1377V1345M1193 1377V1357"/>
<use href="#j" x="1456.5" y="1381"/><path d="M1501 1381V1341M1535 1381V1371"/>
<use href="#j" x="1627.5" y="1385"/><use href="#j" x="1627.5" y="1386"/><path d="M1672 1385V1367M1706 1385V1405"/>
<use href="#j" x="1798.5" y="1381"/><path d="M1843 1381V1401M1877 1381V1373"/>
</g>
<g fill="none" stroke="#5b7fb8" stroke-width="1.1">
<path transform="translate(1285.5 1219) scale(.99 1)" d="M0 5 1.4-22 2.8 14 4.2-8 5.6 20 7-26 8.4 10 9.8-4 11.2 24 12.6-12 14 18 15.4-20 16.8 2 18.2 28 19.6-24 21-6 22.4 22 23.8-16 25.2 30 26.6-10 28-2 29.4 26 30.8-28 32.2 12 33.6-18 35 6 36.4 32 37.8-14 39.2-22 40.6 16 42-4 43.4 26 44.8-12 46.2 8 47.6-30 49 14 50.4 20 51.8-18 53.2 4 54.6-26 56-40 57.4 10 58.8-34 60.2-6 61.6 16 63-24 64.4-8 65.8 22 67.2-20 68.6-2 70 12 71.4-32 72.8 28 74.2-10 75.6 4 77 24 78.4-41 79.8-14 81.2 6 82.6-24 84 18 85.4-2 86.8-28 88.2 10 89.6-14 91 26 92.4-6 93.8-18 95.2 2 96.6-12 98 30 99.4-8 100.8 16 102.2-22 103.6 38 105-4 106.4 12 107.8-20 109.2 10 110.6-14 112 46 113.4-16 114.8 6 116.2-10 117.6 22 119-24 120.4-2 121.8 14 123.2-28 124.6 16 126-20 127.4 26 128.8-8 130.2-18 131.6 12 133-4 134.4 20 135.8-10 137.2-16 138.6 4 140 18 141.4-6"/>
<path transform="translate(1798.5 1219) scale(.99 1)" d="M0 -5 1.4 18 2.8-20 4.2 10 5.6 36 7-10 8.4 24 9.8-18 11.2 46 12.6-30 14 8 15.4-40 16.8 20 18.2-6 19.6 28 21-26 22.4 6 23.8 14 25.2-30 26.6 22 28-8 29.4 16 30.8-24 32.2 6 33.6 26 35-14 36.4-28 37.8 12 39.2 22 40.6-18 42 4 43.4-10 44.8-20 46.2-47 47.6 16 49-12 50.4 24 51.8-22 53.2 8 54.6 28 56-16 57.4-4 58.8 20 60.2-26 61.6 10 63 26 64.4-14 65.8 2 67.2-18 68.6 22 70-28 71.4 6 72.8 18 74.2-8 75.6-20 77 14 78.4-8 79.8-38 81.2 12 82.6-16 84 22 85.4-24 86.8 6 88.2-26 89.6 16 91-10 92.4 24 93.8-30 95.2 2 96.6-18 98 20 99.4-8 100.8-34 102.2 14 103.6-12 105 26 106.4-30 107.8 8 109.2 30 110.6-34 112-10 113.4 20 114.8-26 116.2 6 117.6 16 119-14 120.4-30 121.8 22 123.2-6 124.6-28 126 10 127.4 14 128.8-22 130.2 4 131.6 24 133-12 134.4-18 135.8 6 137.2 14 138.6-8 140 20 141.4-4"/>
<path transform="translate(1285.5 1382) scale(.99 1)" d="M0 -10 1.4 14 2.8-18 4.2 6 5.6 22 7-14 8.4 10 9.8-20 11.2 16 12.6-6 14 24 15.4-22 16.8 8 18.2 28 19.6-30 21 4 22.4-14 23.8 30 25.2-10 26.6 18 28-26 29.4 12 30.8-6 32.2 28 33.6-20 35 6 36.4-16 37.8 30 39.2-36 40.6 10 42 24 43.4-18 44.8 2 46.2 34 47.6-32 49 12 50.4-6 51.8 24 53.2-20 54.6 8 56-12 57.4 18 58.8-24 60.2 4 61.6 26 63-16 64.4-46 65.8 10 67.2 20 68.6-14 70 30 71.4-8 72.8 14 74.2-26 75.6 6 77 20 78.4-18 79.8-40 81.2 10 82.6-10 84 24 85.4-26 86.8 8 88.2 16 89.6-30 91-4 92.4 22 93.8-42 95.2 12 96.6-8 98 20 99.4-16 100.8 4 102.2 28 103.6-20 105 10 106.4 36 107.8-26 109.2 6 110.6-14 112 24 113.4-34 114.8 8 116.2-6 117.6 18 119-28 120.4 44 121.8 2 123.2-12 124.6 20 126-38 127.4 6 128.8 28 130.2-14 131.6 10 133 46 134.4-30 135.8-4 137.2 22 138.6-24 140 10 141.4-20"/>
</g>

<text class="f" x="1050" y="1492.5" textLength="824" lengthAdjust="spacingAndGlyphs">Figure: The correlation scores of the active variable at index 2 of the mean</text>
<text class="f" x="1048" y="1523" textLength="864" lengthAdjust="spacingAndGlyphs">representation with all the other variables during the 300K training steps of a</text>
<text class="f" x="1050" y="1553" textLength="908" lengthAdjust="spacingAndGlyphs"><tspan class="m i">β</tspan>-VAE with <tspan class="m i">β</tspan> <tspan class="m">= 8</tspan> trained on dSprites. We can see an increased correlation with all</text>
<text class="f" x="1048" y="1583" textLength="464" lengthAdjust="spacingAndGlyphs">the passive variables (indexes 1, 4, and 6).</text>

<!-- conclusion -->
<g fill="#0e3a63"><circle cx="1081" cy="1746" r="5"/><circle cx="1081" cy="1821" r="5"/><circle cx="1081" cy="1896" r="5"/><circle cx="1081" cy="1971" r="5"/></g>
<text class="t" x="1100" y="1756" textLength="788" lengthAdjust="spacingAndGlyphs">Active variables are as disentangled in mean as in sampled</text>
<text class="t" x="1100" y="1792" textLength="212" lengthAdjust="spacingAndGlyphs">representations</text>
<text class="t" x="1100" y="1831" textLength="772" lengthAdjust="spacingAndGlyphs">Passive variables are highly correlated with various active</text>
<text class="t" x="1100" y="1866" textLength="123" lengthAdjust="spacingAndGlyphs">variables</text>
<text class="t" x="1100" y="1907" textLength="815" lengthAdjust="spacingAndGlyphs">An in-depth study of the learning dynamics of VAEs would be</text>
<text class="t" x="1100" y="1941" textLength="485" lengthAdjust="spacingAndGlyphs">needed to explain this phenomenon</text>
<text class="t" x="1100" y="1982" textLength="646" lengthAdjust="spacingAndGlyphs">Passive variables should be removed from mean</text>
<text class="t" x="1100" y="2016" textLength="559" lengthAdjust="spacingAndGlyphs">representations before downstream tasks</text>

<!-- QR -->
<svg x="1390" y="2151" width="232" height="232" viewBox="0 0 29 29" shape-rendering="crispEdges">
<path fill="#06335e" fill-rule="evenodd" d="M0 0h7v7h-7zM1 1v5h5v-5zM2 2h3v3h-3zM22 0h7v7h-7zM23 1v5h5v-5zM24 2h3v3h-3zM0 22h7v7h-7zM1 23v5h5v-5zM2 24h3v3h-3z
M10 0h1v1h-1zM12 0h2v1h-2zM16 0h1v1h-1zM18 0h1v1h-1z
M8 1h1v1h-1zM10 1h1v1h-1zM13 1h1v1h-1zM16 1h1v1h-1zM20 1h1v1h-1z
M8 2h1v1h-1zM11 2h2v1h-2zM16 2h1v1h-1zM18 2h1v1h-1z
M8 3h1v1h-1zM10 3h1v1h-1zM13 3h6v1h-6zM20 3h1v1h-1z
M9 4h4v1h-4zM14 4h1v1h-1zM17 4h4v1h-4z
M17 5h1v1h-1zM20 5h1v1h-1z
M8 6h1v1h-1zM10 6h1v1h-1zM12 6h1v1h-1zM14 6h1v1h-1zM16 6h1v1h-1zM18 6h1v1h-1zM20 6h1v1h-1z
M8 7h2v1h-2zM12 7h1v1h-1zM15 7h1v1h-1zM20 7h1v1h-1z
M0 8h1v1h-1zM6 8h1v1h-1zM8 8h1v1h-1zM11 8h1v1h-1zM13 8h1v1h-1zM15 8h4v1h-4zM20 8h3v1h-3zM25 8h3v1h-3z
M0 9h1v1h-1zM2 9h3v1h-3zM7 9h1v1h-1zM10 9h1v1h-1zM12 9h1v1h-1zM15 9h1v1h-1zM19 9h1v1h-1zM24 9h1v1h-1zM26 9h2v1h-2z
M4 10h1v1h-1zM6 10h1v1h-1zM9 10h2v1h-2zM12 10h7v1h-7zM22 10h1v1h-1z
M0 11h2v1h-2zM3 11h3v1h-3zM8 11h2v1h-2zM12 11h1v1h-1zM16 11h1v1h-1zM18 11h1v1h-1zM20 11h1v1h-1zM22 11h1v1h-1zM24 11h2v1h-2z
M0 12h1v1h-1zM3 12h1v1h-1zM6 12h2v1h-2zM10 12h1v1h-1zM14 12h3v1h-3zM18 12h2v1h-2zM22 12h1v1h-1zM28 12h1v1h-1z
M3 13h1v1h-1zM11 13h1v1h-1zM14 13h3v1h-3zM19 13h2v1h-2zM22 13h3v1h-3zM27 13h2v1h-2z
M0 14h4v1h-4zM6 14h4v1h-4zM12 14h4v1h-4zM18 14h1v1h-1zM21 14h1v1h-1zM24 14h3v1h-3z
M0 15h3v1h-3zM4 15h2v1h-2zM7 15h5v1h-5zM13 15h2v1h-2zM18 15h4v1h-4zM23 15h1v1h-1zM26 15h1v1h-1zM28 15h1v1h-1z
M1 16h1v1h-1zM4 16h1v1h-1zM6 16h4v1h-4zM11 16h1v1h-1zM13 16h1v1h-1zM15 16h4v1h-4zM20 16h1v1h-1zM25 16h2v1h-2z
M0 17h6v1h-6zM7 17h1v1h-1zM10 17h2v1h-2zM14 17h3v1h-3zM19 17h2v1h-2zM22 17h3v1h-3zM26 17h3v1h-3z
M0 18h4v1h-4zM6 18h1v1h-1zM8 18h2v1h-2zM12 18h1v1h-1zM14 18h2v1h-2zM18 18h1v1h-1zM21 18h2v1h-2zM25 18h1v1h-1zM28 18h1v1h-1z
M0 19h1v1h-1zM4 19h1v1h-1zM9 19h4v1h-4zM15 19h1v1h-1zM18 19h2v1h-2zM21 19h2v1h-2zM24 19h1v1h-1z
M0 20h1v1h-1zM3 20h2v1h-2zM6 20h1v1h-1zM8 20h4v1h-4zM15 20h10v1h-10zM26 20h3v1h-3z
M8 21h3v1h-3zM12 21h4v1h-4zM20 21h1v1h-1zM24 21h2v1h-2z
M10 22h7v1h-7zM19 22h2v1h-2zM22 22h1v1h-1zM24 22h3v1h-3z
M9 23h5v1h-5zM15 23h2v1h-2zM18 23h3v1h-3zM24 23h1v1h-1zM27 23h1v1h-1z
M13 24h1v1h-1zM16 24h1v1h-1zM18 24h8v1h-8zM27 24h1v1h-1z
M9 25h1v1h-1zM12 25h1v1h-1zM15 25h4v1h-4zM20 25h1v1h-1zM25 25h2v1h-2zM28 25h1v1h-1z
M9 26h3v1h-3zM14 26h2v1h-2zM17 26h1v1h-1zM19 26h1v1h-1zM21 26h7v1h-7z
M9 27h2v1h-2zM12 27h1v1h-1zM16 27h1v1h-1zM19 27h1v1h-1zM21 27h1v1h-1zM23 27h4v1h-4zM28 27h1v1h-1z
M8 28h1v1h-1zM10 28h1v1h-1zM13 28h5v1h-5zM19 28h1v1h-1zM22 28h1v1h-1zM26 28h1v1h-1z"/>
</svg>

<!-- references -->
<text class="r" x="1050" y="2513">[1]</text>
<text class="r" x="1085" y="2513" textLength="879" lengthAdjust="spacingAndGlyphs">B. Dai, Y. Wang, J. Aston, G. Hua, and D. Wipf.  Connections with Robust PCA and the Role of</text>
<text class="r" x="1085" y="2539" textLength="879" lengthAdjust="spacingAndGlyphs">Emergent Sparsity in Variational Autoencoder Models. <tspan class="i">Journal of Machine Learning Research</tspan>, 19</text>
<text class="r" x="1084" y="2565" textLength="135" lengthAdjust="spacingAndGlyphs">(41):1–42, 2018.</text>
<text class="r" x="1050" y="2595">[2]</text>
<text class="r" x="1085" y="2595" textLength="879" lengthAdjust="spacingAndGlyphs">D. P. Kingma and M. Welling.  Auto-Encoding Variational Bayes.  In <tspan class="i">International Conference on</tspan></text>
<text class="r" x="1084" y="2622" textLength="388" lengthAdjust="spacingAndGlyphs"><tspan class="i">Learning Representations</tspan>, volume 2, 2014.</text>
<text class="r" x="1050" y="2651">[3]</text>
<text class="r" x="1085" y="2651" textLength="879" lengthAdjust="spacingAndGlyphs">F. Locatello, S. Bauer, M. Lucic, G. Raetsch, S. Gelly, B. Schölkopf, and O. Bachem.  Challenging</text>
<text class="r" x="1085" y="2677" textLength="879" lengthAdjust="spacingAndGlyphs">Common Assumptions in the Unsupervised Learning of Disentangled Representations.  In <tspan class="i">Pro-</tspan></text>
<text class="r" x="1085" y="2704" textLength="879" lengthAdjust="spacingAndGlyphs"><tspan class="i">ceedings of the 36th International Conference on Machine Learning</tspan>, volume 97 of <tspan class="i">Proceedings</tspan></text>
<text class="r" x="1084" y="2729" textLength="335" lengthAdjust="spacingAndGlyphs"><tspan class="i">of Machine Learning Research</tspan>, 2019.</text>
<text class="r" x="1050" y="2759">[4]</text>
<text class="r" x="1085" y="2759" textLength="879" lengthAdjust="spacingAndGlyphs">M. Rolinek, D. Zietlow, and G. Martius.  Variational Autoencoders Pursue PCA Directions (by Ac-</text>
<text class="r" x="1085" y="2786" textLength="879" lengthAdjust="spacingAndGlyphs">cident). In <tspan class="i">Proceedings of the IEEE/CVF Conference on Computer Vision and Pattern Recognition</tspan></text>
<text class="r" x="1084" y="2813" textLength="116" lengthAdjust="spacingAndGlyphs"><tspan class="i">(CVPR)</tspan>, 2019.</text>
</svg>
</body></html>
